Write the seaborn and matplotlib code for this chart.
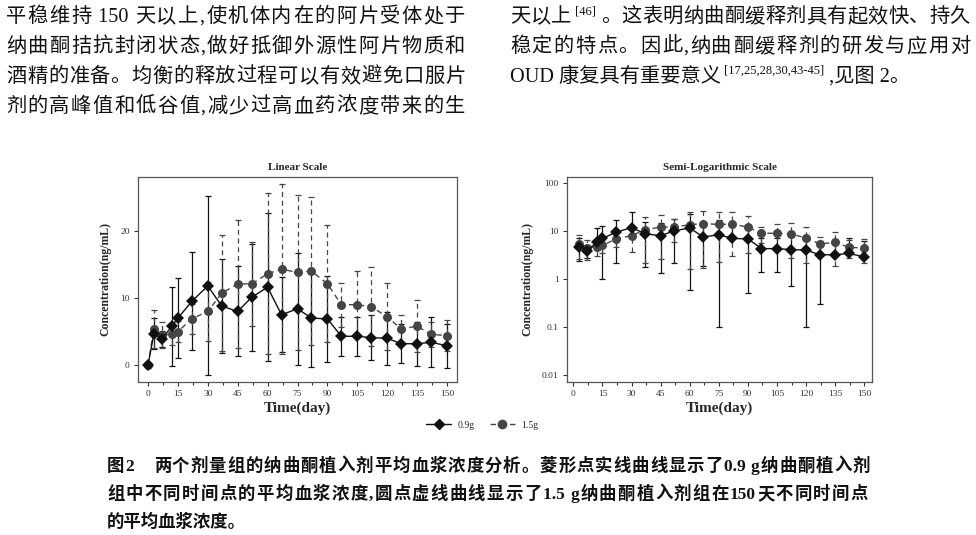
import re
import matplotlib
matplotlib.use('Agg')
import matplotlib.pyplot as plt
import matplotlib.ticker as mticker
from matplotlib.lines import Line2D
import numpy as np
import pandas as pd
import seaborn as sns

# sampling days and mean +/- SD plasma concentration (ng/mL)
days = [0, 3, 7, 12, 15, 22, 30, 37, 45, 52, 60, 67, 75, 82, 90, 97, 105, 112, 120, 127, 135, 142, 150]
mean_09 = [0, 4.7, 3.9, 5.8, 7.0, 9.5, 11.8, 8.8, 8.0, 10.1, 11.6, 7.5, 8.4, 7.0, 6.9, 4.3, 4.3, 4.1, 4.0, 3.2, 3.2, 3.4, 2.9]
sd_09 = [0, 2.3, 1.2, 5.9, 6.0, 7.3, 13.3, 7.0, 6.7, 8.0, 11.0, 5.6, 8.3, 7.2, 6.4, 2.9, 2.9, 3.4, 3.9, 2.9, 3.3, 3.7, 3.3]
mean_15 = [0, 5.4, 4.5, 4.6, 5.0, 6.9, 8.0, 10.7, 12.1, 12.1, 13.6, 14.3, 13.8, 14.0, 12.1, 9.0, 9.0, 8.7, 7.2, 5.4, 5.8, 4.6, 4.4]
sd_15 = [0, 2.8, 2.0, 1.6, 1.6, 2.2, 4.4, 8.6, 9.5, 6.2, 12.0, 12.6, 11.5, 11.0, 8.7, 3.3, 5.0, 5.9, 5.0, 2.0, 3.9, 1.9, 2.3]
doses = ['0.9g', '1.5g']

x_ticks = list(range(0, 151, 15))
log_ticks = [0.01, 0.1, 1, 10, 100]
log_labels = ['0.01', '0.1', '1', '10', '100']

left_lines = [
    '平稳维持 150 天以上,使机体内在的阿片受体处于',
    '纳曲酮拮抗封闭状态,做好抵御外源性阿片物质和',
    '酒精的准备。均衡的释放过程可以有效避免口服片',
    '剂的高峰值和低谷值,减少过高血药浓度带来的生',
]

sns.set_theme(style='ticks')
plt.rcParams['font.family'] = ['Liberation Serif', 'Noto Sans CJK SC']
plt.rcParams['axes.unicode_minus'] = False

W, H = 976, 535
fig = plt.figure(figsize=(W / 100, H / 100), dpi=100)
fig.patch.set_facecolor('white')
ax1 = fig.add_axes([138 / W, 1 - 382 / H, 319 / W, 205 / H])
ax2 = fig.add_axes([567 / W, 1 - 382 / H, 305 / W, 205 / H])

n = len(days)
df = pd.DataFrame({
    'day': days * 2,
    'conc': mean_09 + mean_15,
    'sd': sd_09 + sd_15,
    'dose': [doses[0]] * n + [doses[1]] * n,
})

colors = {'0.9g': '#111111', '1.5g': '#454545'}
markers = {'0.9g': 'D', '1.5g': 'o'}
dashes = {'0.9g': '', '1.5g': (4, 3)}


def draw(ax, data, log=False):
    for dose in doses:
        g = data[data['dose'] == dose]
        lo = g['sd'].values.copy()
        if log:
            # bars that would go below zero are not drawn on the log axis
            lo = np.where(g['conc'] - g['sd'] > 0, g['sd'], 0)
        eb = ax.errorbar(g['day'], g['conc'], yerr=[lo, g['sd'].values], fmt='none',
                         ecolor=colors[dose], elinewidth=0.9, capsize=2.5, capthick=0.9, zorder=2)
        if dose == '1.5g':
            eb[2][0].set_linestyle((0, (4, 3)))
    sns.lineplot(data=data, x='day', y='conc', hue='dose', style='dose', hue_order=doses[::-1],
                 palette=colors, markers=markers, dashes=dashes, markersize=6.5,
                 markeredgewidth=0, linewidth=1.0, errorbar=None, legend=False, ax=ax, zorder=3)


draw(ax1, df)
draw(ax2, df[df['day'] > 0], log=True)

ax1.set_xlim(-5, 155)
ax1.set_ylim(-2.5, 28)
ax1.set_yticks([0, 10, 20])
ax1.set_title('Linear Scale', fontsize=8, fontweight='bold', pad=5)

ax2.set_yscale('log')
ax2.set_xlim(-3.3, 154)
ax2.set_ylim(0.007, 135)
ax2.set_yticks(log_ticks)
ax2.set_yticklabels(log_labels)
ax2.yaxis.set_minor_locator(mticker.NullLocator())
ax2.set_title('Semi-Logarithmic Scale', fontsize=8, fontweight='bold', pad=5)

for ax in (ax1, ax2):
    ax.set_xticks(x_ticks)
    ax.xaxis.set_minor_locator(mticker.MultipleLocator(7.5))
    ax.tick_params(which='both', labelsize=6.8, length=3, width=0.8, colors='#333333', pad=3)
    ax.tick_params(which='minor', length=2)
    for s in ax.spines.values():
        s.set_color('#555555')
        s.set_linewidth(0.9)
    ax.set_xlabel('Time(day)', fontsize=11, fontweight='bold', labelpad=2)
    ax.set_ylabel('Concentration(ng/mL)', fontsize=8.5, fontweight='bold', labelpad=6)
    ax.grid(False)

handles = [
    Line2D([], [], color=colors['0.9g'], marker='D', markersize=5, lw=1.0),
    Line2D([], [], color=colors['1.5g'], marker='o', markersize=6, lw=1.0, ls=(0, (4, 3))),
]
fig.legend(handles, doses, loc='center', bbox_to_anchor=(482 / W, 1 - 425 / H), ncol=2,
           frameon=False, fontsize=7, handlelength=2.6, columnspacing=1.6, handletextpad=0.6)

renderer = fig.canvas.get_renderer()
tok_re = re.compile(r' *[A-Za-z0-9.\-\[\],]+ *|.')


def run_text(x_px, y_px, pieces, size, right=None, weight='normal'):
    # lay pieces out left to right; with `right`, spread the glyphs to fill the line
    items = []
    for s, kw in pieces:
        k = dict(fontsize=size, va='baseline', ha='left', color='#111111', fontweight=weight)
        k.update(kw)
        dy = k.pop('dy', 0)
        toks = tok_re.findall(s) if right else [s]
        for tok in toks:
            t = fig.text(0, 1 - (y_px - dy) / H, tok, **k)
            items.append((t, t.get_window_extent(renderer).width))
    gap = 0
    if right and len(items) > 1:
        gap = (right - x_px - sum(w for _, w in items)) / (len(items) - 1)
    x = x_px
    for t, w in items:
        t.set_x(x / W)
        x += w + gap


body = 14.6
for i, line in enumerate(left_lines):
    run_text(6, 22 + 30 * i, [(line, {})], body, right=465)

sup = dict(fontsize=9, dy=8)
run_text(510, 22, [('天以上', {}), (' [46]', sup), (' 。', {}), ('这表明纳曲酮缓释剂具有起效快、持久', {})],
         body, right=970)
run_text(510, 52, [('稳定的特点。因此,纳曲酮缓释剂的研发与应用对', {})], body, right=970)
run_text(510, 82, [('OUD 康复具有重要意义', {}), (' [17,25,28,30,43-45]', sup), (' ,见图 2。', {})], body)

cap = 12.5
bold = dict(fontweight='bold')
run_text(107, 471, [('图2', bold), ('　', {}), ('两个剂量组的纳曲酮植入剂平均血浆浓度分析。菱形点实线曲线显示了', {}),
                    ('0.9 g', bold), ('纳曲酮植入剂', {})], cap, right=870, weight='semibold')
run_text(107, 499, [('组中不同时间点的平均血浆浓度,圆点虚线曲线显示了', {}), ('1.5 g', bold),
                    ('纳曲酮植入剂组在', {}), ('150', bold), ('天不同时间点', {})], cap, right=868, weight='semibold')
run_text(107, 527, [('的平均血浆浓度。', {})], cap, weight='semibold')

fig.savefig('out.png', dpi=100)
